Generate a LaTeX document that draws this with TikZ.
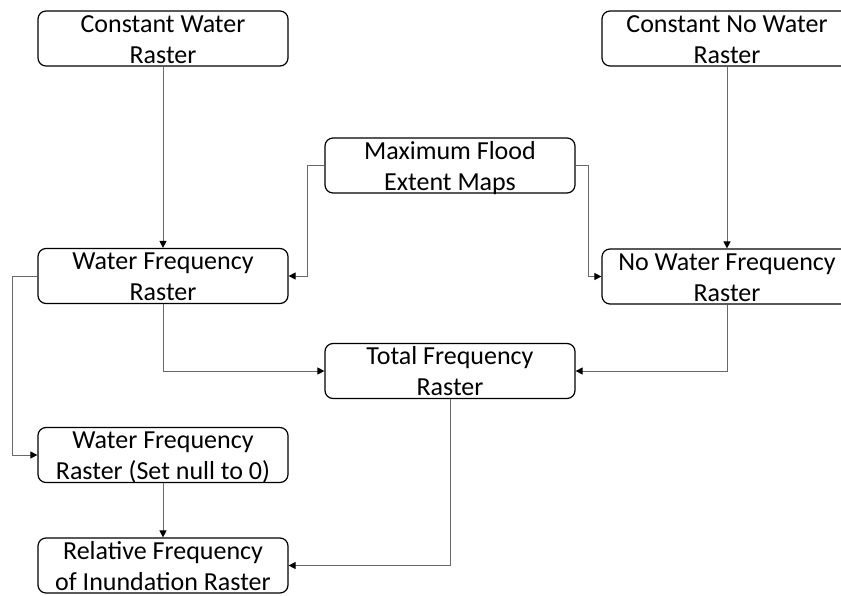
\documentclass[tikz,border=0pt]{standalone}
\usepackage{fontspec}
\setmainfont{Carlito}
\usetikzlibrary{arrows.meta}
\definecolor{linegray}{RGB}{105,105,105}
\newcommand{\twoline}[2]{\raisebox{-24.5pt}[0pt][0pt]{\begin{tabular}[b]{@{}c@{}}#1\\#2\end{tabular}}}
\begin{document}
\begin{tikzpicture}[x=1pt,y=-1pt,
  box/.style={draw=black, line width=1.2pt, rounded corners=8pt, minimum width=250pt, minimum height=55pt, inner sep=0pt,
    font=\fontsize{26}{31}\selectfont},
  conn/.style={draw=linegray, line width=1pt, -{Triangle[length=7pt,width=7pt,color=black]}},
  plain/.style={draw=linegray, line width=1pt}]
\useasboundingbox (0,0) rectangle (841,595);
\begin{scope}
\clip (0,0) rectangle (841,595);
\node[box] (cw)  at (163,38.5)  {\twoline{Constant Water}{Raster}};
\node[box] (cnw) at (727,38.5)  {\twoline{Constant No Water}{Raster}};
\node[box] (mf)  at (450,165.5) {\twoline{Maximum Flood}{Extent Maps}};
\node[box] (wf)  at (163,276)   {\twoline{Water Frequency}{Raster}};
\node[box] (nwf) at (727,276.5) {\twoline{No Water Frequency}{Raster}};
\node[box] (tf)  at (450,371)   {\twoline{Total Frequency}{Raster}};
\node[box] (wf0) at (163,455)   {\twoline{Water Frequency}{Raster (Set null to 0)}};
\node[box] (rf)  at (163,565.5) {\twoline{Relative Frequency}{of Inundation Raster}};
\end{scope}
\coordinate (mfl) at (307,165.5);
\coordinate (mfr) at (588,165.5);
\coordinate (wfl) at (12,276);
\draw[conn] (cw.south) -- (wf.north);
\draw[conn] (cnw.south) -- (nwf.north);
\draw[conn] (mf.west) -- (mfl) |- (wf.east);
\draw[conn] (mf.east) -- (mfr) |- (nwf.west);
\draw[conn] (wf.south) |- (tf.west);
\draw[conn] (nwf.south) |- (tf.east);
\draw[conn] (wf.west) -- (wfl) |- (wf0.west);
\draw[conn] (wf0.south) -- (rf.north);
\draw[conn] (tf.south) |- (rf.east);
\end{tikzpicture}
\end{document}
